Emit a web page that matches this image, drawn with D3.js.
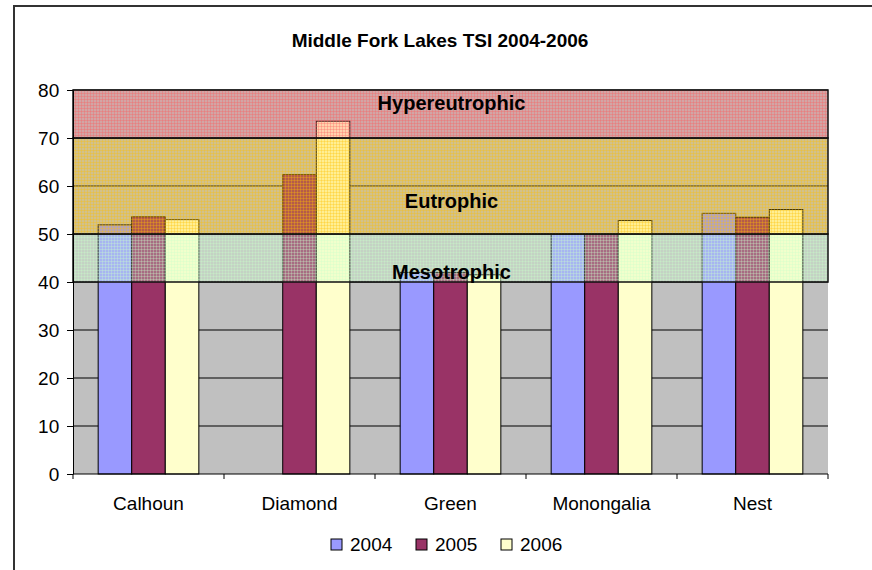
<!DOCTYPE html>
<html>
<head>
<meta charset="utf-8">
<script src="https://cdn.jsdelivr.net/npm/d3@7"></script>
<style>
	body { margin: 0; background: #fff; }
	text { font-family: "Liberation Sans", Arial, sans-serif; fill: #000; }
</style>
</head>
<body>
<svg id="chart" width="872" height="570"></svg>
<script>
const lakes = ['Calhoun', 'Diamond', 'Green', 'Monongalia', 'Nest'];
const years = ['2004', '2005', '2006'];
const tsi2004 = [51.9, null, 42.0, 49.9, 54.3];
const tsi2005 = [53.6, 62.4, 42.0, 49.9, 53.5];
const tsi2006 = [53.0, 73.5, 41.5, 52.8, 55.1];
const yTicks = [0, 10, 20, 30, 40, 50, 60, 70, 80];
const bandNames = ['Mesotrophic', 'Eutrophic', 'Hypereutrophic'];
const bandLow = [40, 50, 70];
const bandHigh = [50, 70, 80];

const colors = ['#9999FF', '#993366', '#FFFFCC'];
const bandColors = ['#CCFFCC', '#FFC000', '#FF5C5C'];

const svg = d3.select('#chart');
const margin = { left: 73, right: 44, top: 90, bottom: 96 };
const W = 872, H = 570;

// outer frame, cut off at right/bottom like the reference
svg.append('rect')
	.attr('x', 14).attr('y', 6)
	.attr('width', 900).attr('height', 600)
	.attr('fill', '#fff').attr('stroke', '#333').attr('stroke-width', 2);

svg.append('text')
	.attr('x', 440).attr('y', 47)
	.attr('text-anchor', 'middle')
	.attr('font-weight', 'bold')
	.attr('font-size', 19)
	.text('Middle Fork Lakes TSI 2004-2006');

let x = d3.scaleBand().domain(lakes).range([margin.left, W - margin.right]);
let xi = d3.scaleBand().domain(years).range([0, x.bandwidth()]).paddingOuter(0.75).paddingInner(0);
let y = d3.scaleLinear().domain([0, 80]).range([H - margin.bottom, margin.top]);

// dotted patterns for the band fills
let defs = svg.append('defs');
bandColors.forEach((c, i) => {
	let p = defs.append('pattern')
		.attr('id', 'band' + i)
		.attr('patternUnits', 'userSpaceOnUse')
		.attr('width', 3).attr('height', 3);
	p.append('rect').attr('width', 3).attr('height', 3)
		.attr('fill', c).attr('fill-opacity', 0.28);
	p.append('rect').attr('width', 3).attr('height', 1)
		.attr('fill', c).attr('fill-opacity', 0.3);
	p.append('rect').attr('width', 1).attr('height', 3)
		.attr('fill', c).attr('fill-opacity', 0.3);
});

// plot background
svg.append('rect')
	.attr('x', margin.left).attr('y', y(80))
	.attr('width', W - margin.left - margin.right)
	.attr('height', y(0) - y(80))
	.attr('fill', '#C0C0C0');

// gridlines
svg.append('g')
	.selectAll('line')
	.data(yTicks.slice(1))
	.enter().append('line')
		.attr('x1', margin.left).attr('x2', W - margin.right)
		.attr('y1', (d) => y(d)).attr('y2', (d) => y(d))
		.attr('stroke', '#000').attr('stroke-width', 1);

// bars
let series = [tsi2004, tsi2005, tsi2006];
series.forEach((vals, s) => {
	svg.append('g')
		.selectAll('rect')
		.data(vals.map((v, i) => ({ lake: lakes[i], v: v })).filter((d) => d.v !== null))
		.enter().append('rect')
			.attr('x', (d) => x(d.lake) + xi(years[s]))
			.attr('y', (d) => y(d.v))
			.attr('width', xi.bandwidth())
			.attr('height', (d) => y(0) - y(d.v))
			.attr('fill', colors[s])
			.attr('stroke', '#000').attr('stroke-width', 1);
});

// trophic bands drawn over the bars
svg.append('g')
	.selectAll('rect')
	.data(bandNames)
	.enter().append('rect')
		.attr('x', margin.left)
		.attr('y', (d, i) => y(bandHigh[i]))
		.attr('width', W - margin.left - margin.right)
		.attr('height', (d, i) => y(bandLow[i]) - y(bandHigh[i]))
		.attr('fill', (d, i) => `url(#band${i})`)
		.attr('stroke', '#111').attr('stroke-width', 1.5);

let bandLabelY = [279, 208, 110];
svg.append('g')
	.selectAll('text')
	.data(bandNames)
	.enter().append('text')
		.attr('x', (margin.left + W - margin.right) / 2 + 1)
		.attr('y', (d, i) => bandLabelY[i])
		.attr('text-anchor', 'middle')
		.attr('font-weight', 'bold')
		.attr('font-size', 20)
		.text((d) => d);

// axes
let yAxis = d3.axisLeft(y).tickValues(yTicks).tickSize(6).tickSizeOuter(0);
let gy = svg.append('g')
	.attr('transform', `translate(${margin.left},0)`)
	.call(yAxis);
gy.selectAll('text').attr('font-size', 19).attr('font-family', null).attr('dx', '-0.25em');
gy.select('.domain').attr('stroke', '#000');
gy.selectAll('.tick line').attr('stroke', '#000');

let gx = svg.append('g')
	.attr('transform', `translate(0,${y(0)})`);
gx.append('line')
	.attr('x1', margin.left).attr('x2', W - margin.right)
	.attr('stroke', '#000');
gx.selectAll('line.tick')
	.data(lakes.concat(['end']))
	.enter().append('line')
		.attr('class', 'tick')
		.attr('x1', (d) => d === 'end' ? W - margin.right : x(d))
		.attr('x2', (d) => d === 'end' ? W - margin.right : x(d))
		.attr('y2', 5)
		.attr('stroke', '#000');
gx.selectAll('text')
	.data(lakes)
	.enter().append('text')
		.attr('x', (d) => x(d) + x.bandwidth() / 2)
		.attr('y', 36)
		.attr('text-anchor', 'middle')
		.attr('font-size', 19)
		.text((d) => d);

// legend
let leg = svg.append('g')
	.selectAll('g')
	.data(years)
	.enter().append('g')
		.attr('transform', (d, i) => `translate(${331 + i * 85},539)`);
leg.append('rect')
	.attr('width', 11).attr('height', 11)
	.attr('fill', (d, i) => colors[i])
	.attr('stroke', '#000').attr('stroke-width', 1);
leg.append('text')
	.attr('x', 19).attr('y', 12)
	.attr('font-size', 19)
	.text((d) => d);
</script>
</body>
</html>
